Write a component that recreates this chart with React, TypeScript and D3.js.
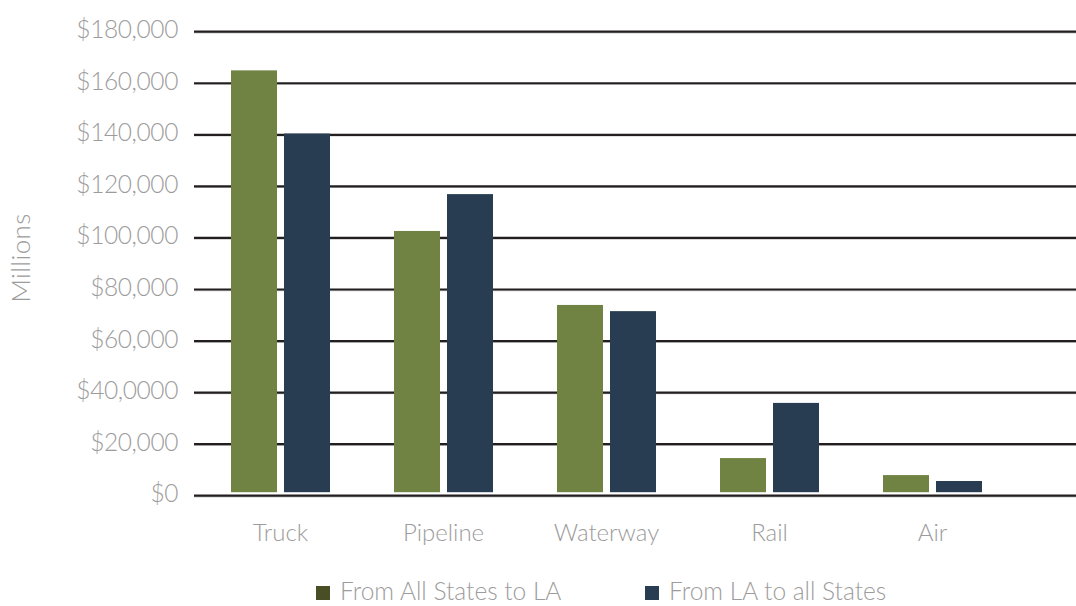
import React from "react";
import * as d3 from "d3";

const categories = ["Truck", "Pipeline", "Waterway", "Rail", "Air"];
const seriesNames = ["From All States to LA", "From LA to all States"];
const fromAllStatesToLA = [165000, 102700, 74000, 14600, 8000];
const fromLAToAllStates = [140500, 117000, 71600, 36000, 5700];
const tickValues = [0, 20000, 40000, 60000, 80000, 100000, 120000, 140000, 160000, 180000];
const tickLabels = ["$0", "$20,000", "$40,0000", "$60,000", "$80,000", "$100,000", "$120,000", "$140,000", "$160,000", "$180,000"];
const yAxisTitle = "Millions";

const W = 1076;
const H = 606;
const barColors = ["#718343", "#283d51"];
const legendColors = ["#4a4e24", "#283d51"];
const FONT = "Lato, 'Open Sans', sans-serif";
const TEXT_GRAY = "#9c9c9c";

export default function App() {
  const y = d3.scaleLinear().domain([0, 180000]).range([495.7, 31.7]);
  const x0 = d3.scaleBand<string>().domain(categories).range([199, 1014]).padding(0);
  const x1 = d3.scaleBand<string>().domain(seriesNames).range([32, 131]).paddingInner(0.132).paddingOuter(0);
  const baseline = y(0) - 3.5;
  const series = [fromAllStatesToLA, fromLAToAllStates];

  return (
    <svg width={W} height={H} style={{ position: "absolute", left: 0, top: 0, background: "#fff" }}>
      {/* gridlines */}
      {tickValues.map((v) => (
        <g key={"g" + v}>
          <line x1={194} x2={W} y1={y(v) + 1} y2={y(v) + 1} stroke="#c8c8c8" strokeWidth={1.5} />
          <line x1={194} x2={W} y1={y(v)} y2={y(v)} stroke="#231f20" strokeWidth={2.2} />
        </g>
      ))}
      {/* tick labels */}
      {tickValues.map((v, i) => (
        <text
          key={"t" + v}
          x={178}
          y={y(v) - 3}
          textAnchor="end"
          dominantBaseline="central"
          fontFamily={FONT}
          fontWeight={300}
          fontSize={24.5}
          letterSpacing={-0.4}
          fill={TEXT_GRAY}
        >
          {tickLabels[i]}
        </text>
      ))}
      {/* axis title */}
      <text
        transform={`translate(20,258) rotate(-90)`}
        textAnchor="middle"
        dominantBaseline="central"
        fontFamily={FONT}
        fontWeight={300}
        fontSize={26}
        letterSpacing={0.4}
        fill={TEXT_GRAY}
      >
        {yAxisTitle}
      </text>
      {/* bars */}
      {categories.map((c, ci) => (
        <g key={c} transform={`translate(${x0(c)},0)`}>
          {seriesNames.map((s, si) => {
            const v = series[si][ci];
            return (
              <rect
                key={s}
                x={x1(s)}
                y={y(v)}
                width={x1.bandwidth()}
                height={baseline - y(v)}
                fill={barColors[si]}
              />
            );
          })}
          <text
            x={x0.bandwidth() / 2}
            y={541}
            textAnchor="middle"
            fontFamily={FONT}
            fontWeight={300}
            fontSize={24}
            fill={TEXT_GRAY}
          >
            {c}
          </text>
        </g>
      ))}
      {/* legend */}
      {seriesNames.map((s, si) => {
        const lx = si === 0 ? 316 : 645;
        return (
          <g key={"l" + s}>
            <rect x={lx} y={586} width={14} height={14} fill={legendColors[si]} />
            <text x={lx + 24} y={600} fontFamily={FONT} fontWeight={300} fontSize={24.5} fill={TEXT_GRAY}>
              {s}
            </text>
          </g>
        );
      })}
    </svg>
  );
}
